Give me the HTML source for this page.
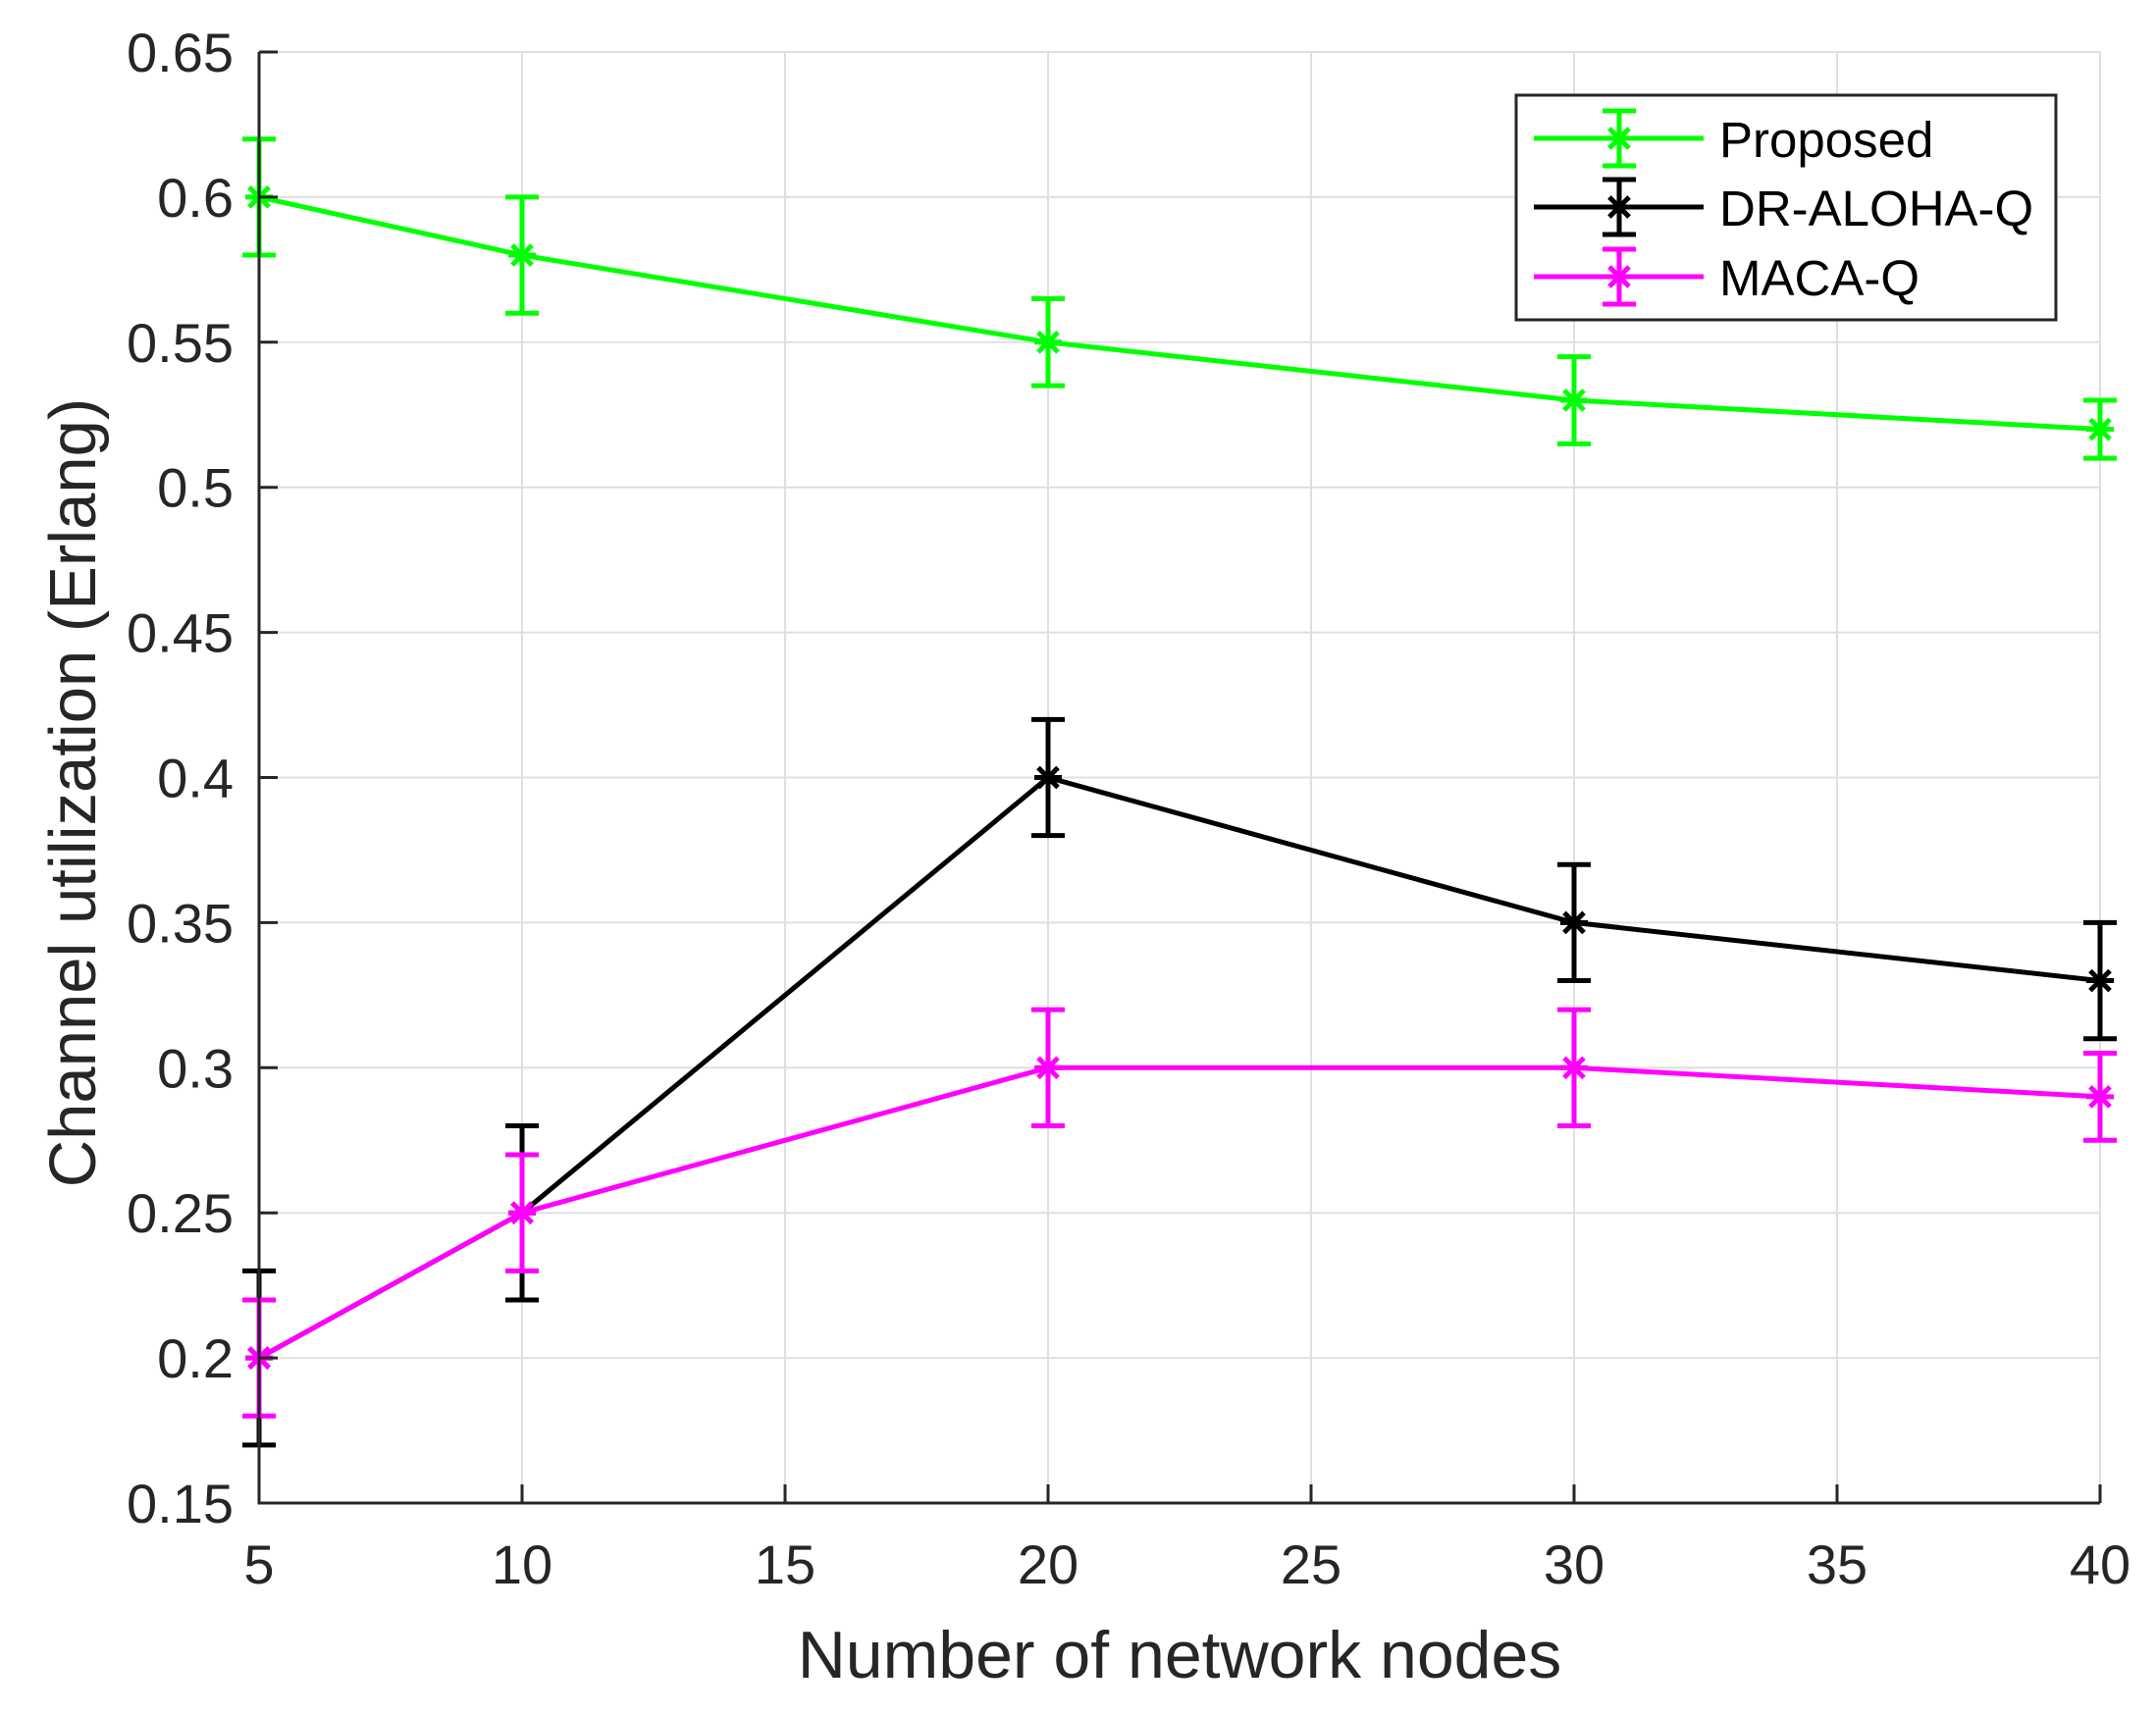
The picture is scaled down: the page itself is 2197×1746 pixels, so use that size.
<!DOCTYPE html>
<html><head><meta charset="utf-8"><style>
html,body{margin:0;padding:0;background:#fff;}
svg{display:block;font-family:"Liberation Sans",Arial,sans-serif;}
</style></head><body>
<svg id="chart" width="2197" height="1746" viewBox="0 0 2197 1746" xmlns="http://www.w3.org/2000/svg">
<rect x="0" y="0" width="2197" height="1746" fill="#fff"/>
<g id="grid"></g>
<g id="series"></g>
<g id="axes"></g>
<g id="legend"></g>
<text x="1202" y="1710" font-size="68" text-anchor="middle" fill="#262626">Number of network nodes</text>
<text transform="translate(97,808) rotate(-90)" font-size="67" text-anchor="middle" fill="#262626">Channel utilization (Erlang)</text>
</svg>
<script>
const xCategories = [5, 10, 20, 30, 40];
const proposedValues = [0.60, 0.58, 0.55, 0.53, 0.52];
const proposedErr = [0.02, 0.02, 0.015, 0.015, 0.01];
const alohaValues = [0.20, 0.25, 0.40, 0.35, 0.33];
const alohaErr = [0.03, 0.03, 0.02, 0.02, 0.02];
const macaValues = [0.20, 0.25, 0.30, 0.30, 0.29];
const macaErr = [0.02, 0.02, 0.02, 0.02, 0.015];
const xTicks = [5, 10, 15, 20, 25, 30, 35, 40];
const yTicks = [0.15, 0.2, 0.25, 0.3, 0.35, 0.4, 0.45, 0.5, 0.55, 0.6, 0.65];
const yTickLabels = ["0.15","0.2","0.25","0.3","0.35","0.4","0.45","0.5","0.55","0.6","0.65"];
const seriesNames = ["Proposed", "DR-ALOHA-Q", "MACA-Q"];

const NS = "http://www.w3.org/2000/svg";
const L = 264, R = 2140, T = 53, B = 1532;
const xMin = 5, xMax = 40, yMin = 0.15, yMax = 0.65;
function xs(v){ return L + (v - xMin) / (xMax - xMin) * (R - L); }
function ys(v){ return B - (v - yMin) / (yMax - yMin) * (B - T); }
function mk(tag, attrs, parent){
  const e = document.createElementNS(NS, tag);
  for (const k in attrs) e.setAttribute(k, attrs[k]);
  parent.appendChild(e);
  return e;
}
const grid = document.getElementById('grid');
const axes = document.getElementById('axes');
const series = document.getElementById('series');
const legend = document.getElementById('legend');

xTicks.forEach(t => {
  const g = mk('line', {x1: xs(t), x2: xs(t), y1: T, y2: B, stroke: '#dfdfdf', 'stroke-width': 2}, grid);
  
  
  const tk = mk('line', {x1: xs(t), x2: xs(t), y1: B, y2: B - 19, stroke: '#262626', 'stroke-width': 3}, axes);
  
  
  const lb = mk('text', {x: xs(t), y: 1614, 'font-size': 56, 'text-anchor': 'middle', fill: '#262626'}, axes);
  lb.textContent = t;
  
  
});
yTicks.forEach((t, i) => {
  const g = mk('line', {x1: L, x2: R, y1: ys(t), y2: ys(t), stroke: '#dfdfdf', 'stroke-width': 2}, grid);
  
  
  const tk = mk('line', {x1: L, x2: L + 19, y1: ys(t), y2: ys(t), stroke: '#262626', 'stroke-width': 3}, axes);
  
  
  const lb = mk('text', {x: 238, y: ys(t) + 20, 'font-size': 56, 'text-anchor': 'end', fill: '#262626'}, axes);
  lb.textContent = yTickLabels[i];
  
  
});
const ax = mk('path', {d: `M${L},${T} L${L},${B} L${R},${B}`, fill: 'none', stroke: '#262626', 'stroke-width': 3}, axes);



function star(cx, cy, color, parent, s){
  const d = `M${cx-s},${cy} L${cx+s},${cy} M${cx},${cy-s} L${cx},${cy+s} M${cx-s*0.72},${cy-s*0.72} L${cx+s*0.72},${cy+s*0.72} M${cx-s*0.72},${cy+s*0.72} L${cx+s*0.72},${cy-s*0.72}`;
  return mk('path', {d: d, stroke: color, 'stroke-width': 5, fill: 'none'}, parent);
}
function drawSeries(vals, errs, color, name){
  const g = mk('g', {}, series);
  
  
  const pts = vals.map((v, i) => `${xs(xCategories[i])},${ys(v)}`).join(' ');
  const pl = mk('polyline', {points: pts, fill: 'none', stroke: color, 'stroke-width': 5}, g);
  
  
  vals.forEach((v, i) => {
    const x = xs(xCategories[i]), y1 = ys(v + errs[i]), y2 = ys(v - errs[i]);
    const eb = mk('path', {d: `M${x},${y1} L${x},${y2} M${x-17},${y1} L${x+17},${y1} M${x-17},${y2} L${x+17},${y2}`, stroke: color, 'stroke-width': 5, fill: 'none'}, g);
    
    
    const m = star(x, ys(v), color, g, 14);
    
    
  });
}
drawSeries(proposedValues, proposedErr, '#00ff00', 'proposed');
drawSeries(alohaValues, alohaErr, '#000000', 'dr-aloha-q');
drawSeries(macaValues, macaErr, '#ff00ff', 'maca-q');

const lb = mk('rect', {x: 1545, y: 97, width: 550, height: 229, fill: '#fff', stroke: '#262626', 'stroke-width': 3}, legend);


const legColors = ['#00ff00', '#000000', '#ff00ff'];
const legY = [141, 211, 282];
seriesNames.forEach((n, i) => {
  const g = mk('g', {}, legend);
  
  
  const y = legY[i], c = legColors[i];
  mk('line', {x1: 1563, x2: 1736, y1: y, y2: y, stroke: c, 'stroke-width': 5}, g);
  mk('path', {d: `M1650,${y-28} L1650,${y+28} M1633,${y-28} L1667,${y-28} M1633,${y+28} L1667,${y+28}`, stroke: c, 'stroke-width': 5, fill: 'none'}, g);
  star(1650, y, c, g, 14);
  const t = mk('text', {x: 1752, y: y + 19, 'font-size': 51, fill: '#000'}, g);
  t.textContent = n;
});
</script>
</body></html>
